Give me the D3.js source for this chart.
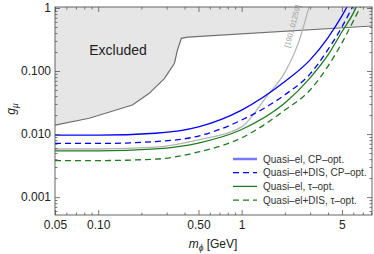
<!DOCTYPE html>
<html>
<head>
<meta charset="utf-8">
<script src="https://cdn.jsdelivr.net/npm/d3@7"></script>
<style>
  body { margin: 0; background: #fff; }
  svg { font-family: "Liberation Sans", Arial, sans-serif; }
  .axis path { display: none; }
  .axis line { stroke: #555; stroke-width: 0.8; }
  .axis text { fill: #222; font-size: 12px; }
</style>
</head>
<body>
<div id="chart"></div>
<script>
// data
const masses = [0.05, 0.1, 0.25, 0.5, 1, 2, 3, 4, 5, 6, 7];
const quasiElCP = [0.0096, 0.0096, 0.0103, 0.013, 0.024, 0.068, 0.15, 0.34, 0.75, 1.6, 3.0];
const quasiElDisCP = [0.0071, 0.0071, 0.0076, 0.0093, 0.0167, 0.042, 0.09, 0.22, 0.5, 1.1, 2.2];
const quasiElTau = [0.0054, 0.0054, 0.0058, 0.0072, 0.0118, 0.031, 0.078, 0.18, 0.42, 0.83, 1.8];
const quasiElDisTau = [0.0038, 0.0038, 0.004, 0.0052, 0.0087, 0.024, 0.05, 0.12, 0.28, 0.62, 1.25];

const paperMass = [0.05, 0.1, 0.25, 0.5, 1, 1.5, 2, 2.5, 3];
const paperG = [0.0058, 0.0058, 0.0062, 0.0081, 0.013, 0.04, 0.095, 0.29, 1.2];
const paperLabel = "[1901.01259]";

const excludedMass = [0.05, 0.0865, 0.173, 0.227, 0.29, 0.34, 0.357, 0.38, 0.42, 8.1];
const excludedG = [0.0139, 0.0178, 0.0289, 0.0443, 0.0766, 0.133, 0.216, 0.33, 0.346, 0.518];

const xTickVals = [0.05, 0.1, 0.5, 1, 5];
const xTickLabels = ["0.05", "0.10", "0.50", "1", "5"];
const yTickVals = [1, 0.1, 0.01, 0.001];
const yTickLabels = ["1", "0.100", "0.010", "0.001"];

const legendLabels = ["Quasi\u2013el, CP\u2013opt.", "Quasi\u2013el+DIS, CP\u2013opt.",
                      "Quasi\u2013el, \u03c4\u2013opt.", "Quasi\u2013el+DIS, \u03c4\u2013opt."];

const W = 374, H = 254;
const margin = {left: 55, right: 372, top: 7, bottom: 215};

const svg = d3.select("#chart").append("svg")
    .attr("width", W).attr("height", H);

const x = d3.scaleLog().domain([0.05, 8.1]).range([margin.left, margin.right]);
const y = d3.scaleLog().domain([0.00052, 1.037]).range([margin.bottom, margin.top]);

svg.append("defs").append("clipPath").attr("id", "clip")
  .append("rect").attr("x", margin.left).attr("y", margin.top)
  .attr("width", margin.right - margin.left).attr("height", margin.bottom - margin.top);

const plot = svg.append("g").attr("clip-path", "url(#clip)");

// excluded region
const exPts = excludedMass.map((m, i) => [m, excludedG[i]]);
const area = d3.area()
    .x(d => x(d[0]))
    .y0(margin.top)
    .y1(d => y(d[1]));
plot.append("path").datum(exPts)
    .attr("fill", "#e6e6e6")
    .attr("d", area);
plot.append("path").datum(exPts)
    .attr("fill", "none")
    .attr("stroke", "#6e6e6e")
    .attr("stroke-width", 1.2)
    .attr("d", d3.line().x(d => x(d[0])).y(d => y(d[1])));

// previous bound
const line = d3.line()
    .x(d => x(d[0]))
    .y(d => y(d[1]))
    .curve(d3.curveMonotoneX);

plot.append("path").datum(paperMass.map((m, i) => [m, paperG[i]]))
    .attr("fill", "none")
    .attr("stroke", "#b4b4b4")
    .attr("stroke-width", 1.3)
    .attr("d", line);

svg.append("text")
    .attr("transform", `translate(${x(2.35)},${y(0.5)}) rotate(-75)`)
    .attr("text-anchor", "middle")
    .attr("font-size", 7.5)
    .attr("fill", "#999")
    .text(paperLabel);

const series = [
    {vals: quasiElCP, color: "#0000ff", dash: null},
    {vals: quasiElDisCP, color: "#0000ff", dash: "6,4"},
    {vals: quasiElTau, color: "#1e7b1e", dash: null},
    {vals: quasiElDisTau, color: "#1e7b1e", dash: "6,4"}
];

series.forEach(s => {
    plot.append("path").datum(masses.map((m, i) => [m, s.vals[i]]))
        .attr("fill", "none")
        .attr("stroke", s.color)
        .attr("stroke-width", 1.3)
        .attr("stroke-dasharray", s.dash)
        .attr("d", line);
});

// axes with inward ticks
function minorTicks(lo, hi, skip) {
    let out = [];
    for (let e = -4; e <= 1; e++) {
        for (let k = 1; k <= 9; k++) {
            let v = +(k * Math.pow(10, e)).toPrecision(3);
            if (v >= lo && v <= hi && !skip.includes(v)) out.push(v);
        }
    }
    return out;
}
const xMinor = minorTicks(0.05, 8.1, xTickVals);
const yMinor = minorTicks(0.00052, 1.037, yTickVals);

svg.append("g").attr("class", "axis").attr("transform", `translate(0,${margin.bottom})`)
    .call(d3.axisBottom(x).tickValues(xTickVals).tickSize(-5).tickPadding(5)
        .tickFormat((d, i) => xTickLabels[i]));
svg.append("g").attr("class", "axis").attr("transform", `translate(0,${margin.bottom})`)
    .call(d3.axisBottom(x).tickValues(xMinor).tickSize(-2.5).tickFormat(""));
svg.append("g").attr("class", "axis").attr("transform", `translate(0,${margin.top})`)
    .call(d3.axisTop(x).tickValues(xTickVals).tickSize(-5).tickFormat(""));
svg.append("g").attr("class", "axis").attr("transform", `translate(0,${margin.top})`)
    .call(d3.axisTop(x).tickValues(xMinor).tickSize(-2.5).tickFormat(""));

svg.append("g").attr("class", "axis").attr("transform", `translate(${margin.left},0)`)
    .call(d3.axisLeft(y).tickValues(yTickVals).tickSize(-5).tickPadding(4)
        .tickFormat((d, i) => yTickLabels[i]));
svg.append("g").attr("class", "axis").attr("transform", `translate(${margin.left},0)`)
    .call(d3.axisLeft(y).tickValues(yMinor).tickSize(-2.5).tickFormat(""));
svg.append("g").attr("class", "axis").attr("transform", `translate(${margin.right},0)`)
    .call(d3.axisRight(y).tickValues(yTickVals).tickSize(-5).tickFormat(""));
svg.append("g").attr("class", "axis").attr("transform", `translate(${margin.right},0)`)
    .call(d3.axisRight(y).tickValues(yMinor).tickSize(-2.5).tickFormat(""));

// frame
svg.append("rect")
    .attr("x", margin.left).attr("y", margin.top)
    .attr("width", margin.right - margin.left).attr("height", margin.bottom - margin.top)
    .attr("fill", "none")
    .attr("stroke", "#555")
    .attr("stroke-width", 0.9);

// labels
svg.append("text")
    .attr("x", 118).attr("y", 55)
    .attr("text-anchor", "middle")
    .attr("font-size", 14)
    .attr("fill", "#222")
    .text("Excluded");

const xl = svg.append("text")
    .attr("x", 213).attr("y", 248)
    .attr("text-anchor", "middle")
    .attr("font-size", 12)
    .attr("fill", "#222");
xl.append("tspan").attr("font-style", "italic").text("m");
xl.append("tspan").attr("font-style", "italic").attr("font-size", 8.5).attr("dy", 3).text("\u03d5");
xl.append("tspan").attr("dy", -3).text(" [GeV]");

const yl = svg.append("text")
    .attr("transform", "translate(15,109) rotate(-90)")
    .attr("text-anchor", "middle")
    .attr("font-size", 12)
    .attr("fill", "#222");
yl.append("tspan").attr("font-style", "italic").text("g");
yl.append("tspan").attr("font-style", "italic").attr("font-size", 8.5).attr("dy", 3).text("\u03bc");

// legend
const legend = svg.append("g");
series.forEach((s, i) => {
    let ly = 159 + i * 13.7;
    legend.append("line")
        .attr("x1", 233).attr("x2", 257)
        .attr("y1", ly).attr("y2", ly)
        .attr("stroke", i === 0 ? "#7878ff" : s.color)
        .attr("stroke-width", i === 0 ? 2.5 : 1.3)
        .attr("stroke-dasharray", s.dash);
    legend.append("text")
        .attr("x", 263).attr("y", ly + 3.5)
        .attr("font-size", 10)
        .attr("fill", "#333")
        .text(legendLabels[i]);
});
</script>
</body>
</html>
